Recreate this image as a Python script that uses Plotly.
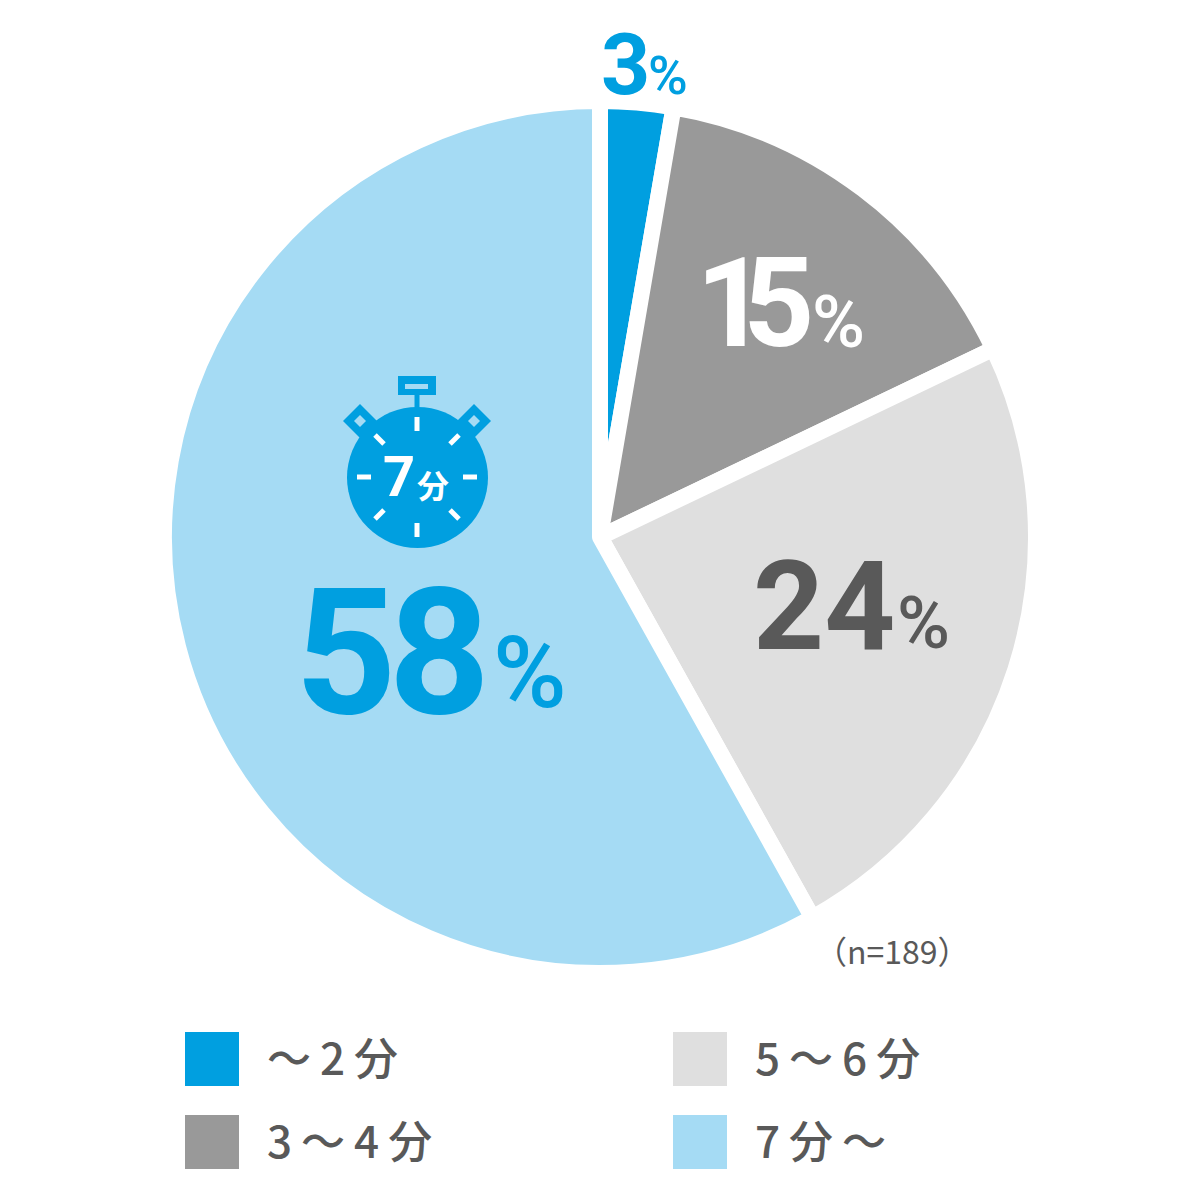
import plotly.graph_objects as go

categories = ["〜2分", "3〜4分", "5〜6分", "7分〜"]
percent_labels = [3, 15, 24, 58]
slice_shares = [2.7, 15.2, 24.0, 58.1]
colors = ["#009FE0", "#999999", "#DFDFDF", "#A5DBF4"]
sample_note = "（n=189）"
icon_label = ["7", "分"]

W, H = 1193, 1192  # the page body adds an 8 px offset
OFF = 8
CX, CY, R = 600, 537, 436
BLUE, DARK = "#009FE0", "#595959"
JP = "Noto Sans CJK JP"
NUM = "Roboto"


def px(x):
    return (x - OFF) / W


def py(y):
    return 1 - (y - OFF) / H


annotations = []
shapes = []


def text(x, y, s, size, color, family=JP, anchor="center", weight=None):
    font = dict(family=family, size=size, color=color)
    if weight:
        font["weight"] = weight
    annotations.append(dict(
        x=px(x), y=py(y), xref="paper", yref="paper", text=s, showarrow=False,
        xanchor=anchor, yanchor="middle", borderpad=0, font=font,
    ))


def rect(x0, y0, x1, y1, color):
    shapes.append(dict(type="rect", xref="paper", yref="paper", x0=px(x0), x1=px(x1),
                       y0=py(y0), y1=py(y1), fillcolor=color, line_width=0))


def seg(x0, y0, x1, y1, color, w=5):
    shapes.append(dict(type="line", xref="paper", yref="paper", x0=px(x0), x1=px(x1),
                       y0=py(y0), y1=py(y1), line=dict(color=color, width=w)))


def poly(pts, color):
    path = "M " + " L ".join(f"{px(a):.5f},{py(b):.5f}" for a, b in pts) + " Z"
    shapes.append(dict(type="path", xref="paper", yref="paper", path=path,
                       fillcolor=color, line_width=0))


# percentage labels: number, then smaller percent sign
label_style = [
    (625, 64, 86, BLUE, 0, 668, 76, 54),
    (752, 304, 124, "#FFFFFF", -24, 838, 322, 72),
    (824, 606, 124, DARK, 0, 923, 623, 72),
    (389, 652, 177, BLUE, -8, 530, 672, 100),
]
for v, (nx, ny, ns, col, sp, sx, sy, ss) in zip(percent_labels, label_style):
    text(nx, ny, f'<span style="letter-spacing:{sp}px">{v}</span>', ns, col, NUM, weight=700)
    text(sx, sy, "%", ss, col, NUM, weight=500)

text(892, 950, sample_note, 32, DARK, JP)

# legend
legend_pos = [(185, 1032), (185, 1115), (673, 1032), (673, 1115)]
for name, col, (lx, ly) in zip(categories, colors, legend_pos):
    rect(lx, ly, lx + 54, ly + 54, col)
    text(lx + 81, ly + 24, f'<span style="letter-spacing:9px">{name}</span>', 44, DARK, JP, "left", 500)

# stopwatch icon
PALE = colors[3]
for ex in (360, 474):
    seg(ex, 421, 417, 477, BLUE, 12)
    poly([(ex, 404), (ex + 17, 421), (ex, 438), (ex - 17, 421)], BLUE)
    poly([(ex, 415), (ex + 6, 421), (ex, 427), (ex - 6, 421)], PALE)
shapes.append(dict(type="circle", xref="paper", yref="paper", x0=px(347), x1=px(488),
                   y0=py(407), y1=py(548), fillcolor=BLUE, line_width=0))
rect(414.5, 392, 419.5, 410, BLUE)
rect(398, 376, 436, 395, BLUE)
rect(405, 384, 428, 389, PALE)
for a, b, c, d in [(417, 417, 417, 431), (417, 523, 417, 537), (357, 477, 371, 477), (463, 477, 477, 477),
                   (375, 435, 384, 444), (459, 435, 450, 444), (375, 519, 384, 510), (459, 519, 450, 510)]:
    seg(a, b, c, d, "#FFFFFF", 5)
text(399, 477, icon_label[0], 56, "#FFFFFF", NUM, weight=700)
text(433, 484, icon_label[1], 32, "#FFFFFF", JP, weight=700)

fig = go.Figure(go.Pie(
    labels=categories, values=slice_shares, sort=False, direction="clockwise", rotation=0,
    textinfo="none", hoverinfo="label+percent", showlegend=False,
    marker=dict(colors=colors, line=dict(color="#FFFFFF", width=16)),
    domain=dict(x=[px(CX - R), px(CX + R)], y=[py(CY + R), py(CY - R)]),
))
fig.update_layout(
    width=W, height=H, margin=dict(l=0, r=0, t=0, b=0), autosize=False,
    paper_bgcolor="#FFFFFF", plot_bgcolor="#FFFFFF",
    shapes=shapes, annotations=annotations,
)
fig.write_html("out.html")
